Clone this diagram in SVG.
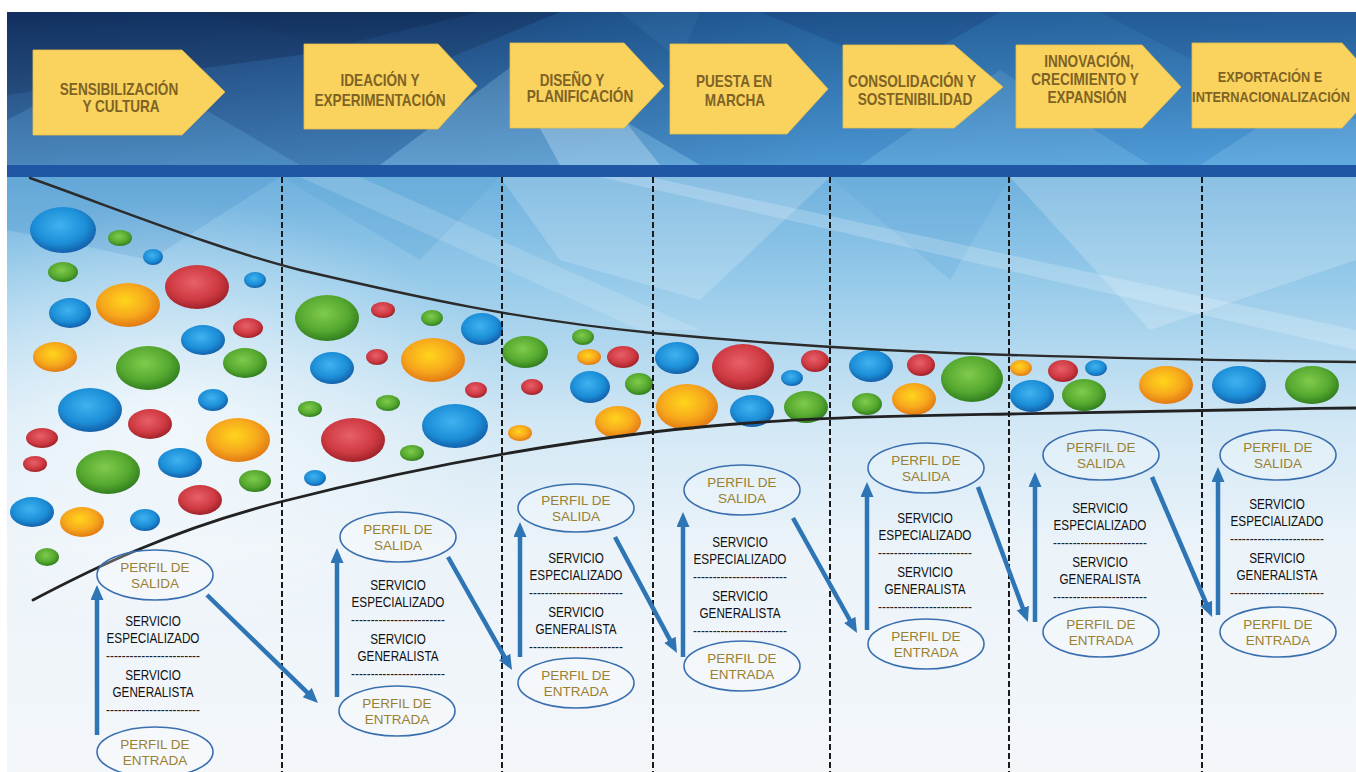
<svg xmlns="http://www.w3.org/2000/svg" width="1356" height="772" viewBox="0 0 1356 772">
<defs>
<style>
.h{font-family:"Liberation Sans",Arial,sans-serif;font-weight:bold;font-size:16px;fill:#7f6325;text-anchor:middle}
.h7{font-size:15px}
.s{font-family:"Liberation Sans",Arial,sans-serif;font-size:15px;fill:#111111;text-anchor:middle}
.d{font-family:"Liberation Sans",Arial,sans-serif;font-size:14px;fill:#222;text-anchor:middle}
.p{font-family:"Liberation Sans",Arial,sans-serif;font-size:13.5px;fill:#9a8032;text-anchor:middle}
.chev{fill:#fad35e;stroke:#e8bf4a;stroke-width:0.8}
.ell{fill:#ffffff;fill-opacity:0.25;stroke:#3a6faf;stroke-width:1.6}
.arr{stroke:#2e75b6;stroke-width:4.5;fill:none;marker-end:url(#ah)}
.sep{stroke:#1a1a1a;stroke-width:2;stroke-dasharray:6 3;fill:none}
.B{fill:url(#gB)}.G{fill:url(#gG)}.R{fill:url(#gR)}.O{fill:url(#gO)}
</style>
<marker id="ah" markerUnits="userSpaceOnUse" markerWidth="16" markerHeight="14" refX="3" refY="6.5" orient="auto">
<path d="M0,0 L15,6.5 L0,13 z" fill="#2e75b6"/>
</marker>
<linearGradient id="hdr" x1="0" y1="0" x2="1" y2="0">
<stop offset="0" stop-color="#1c4a86"/><stop offset="0.35" stop-color="#24609f"/><stop offset="0.6" stop-color="#2f7fc3"/><stop offset="1" stop-color="#3a8ed2"/>
</linearGradient>
<linearGradient id="hdrV" x1="0" y1="0" x2="0" y2="1">
<stop offset="0" stop-color="#0a1e46" stop-opacity="0.35"/><stop offset="1" stop-color="#7abde9" stop-opacity="0.35"/>
</linearGradient>
<linearGradient id="low" x1="0" y1="0" x2="0" y2="1">
<stop offset="0" stop-color="#6fb1de"/><stop offset="0.18" stop-color="#97cbea"/><stop offset="0.42" stop-color="#d3e8f5"/><stop offset="0.62" stop-color="#ebf3f9"/><stop offset="1" stop-color="#f4f7fa"/>
</linearGradient>
<radialGradient id="glow" cx="0.5" cy="0.5" r="0.5">
<stop offset="0" stop-color="#ffffff" stop-opacity="0.7"/><stop offset="1" stop-color="#ffffff" stop-opacity="0"/>
</radialGradient>
<radialGradient id="gB" cx="0.45" cy="0.4" r="0.6"><stop offset="0" stop-color="#40b2f0"/><stop offset="0.65" stop-color="#1c8fd8"/><stop offset="1" stop-color="#1560aa"/></radialGradient>
<radialGradient id="gG" cx="0.45" cy="0.4" r="0.6"><stop offset="0" stop-color="#80cb4c"/><stop offset="0.65" stop-color="#55a82f"/><stop offset="1" stop-color="#327f20"/></radialGradient>
<radialGradient id="gR" cx="0.45" cy="0.4" r="0.6"><stop offset="0" stop-color="#e8606a"/><stop offset="0.65" stop-color="#cf3a42"/><stop offset="1" stop-color="#a0232a"/></radialGradient>
<radialGradient id="gO" cx="0.45" cy="0.4" r="0.6"><stop offset="0" stop-color="#ffd51c"/><stop offset="0.6" stop-color="#f7a91e"/><stop offset="1" stop-color="#e27a12"/></radialGradient>
<filter id="soft" x="-10%" y="-10%" width="120%" height="120%"><feGaussianBlur stdDeviation="0.7"/></filter>
</defs>

<rect width="1356" height="772" fill="#ffffff"/>

<g id="background">
<rect x="7" y="12" width="1349" height="153" fill="url(#hdr)"/>
<polygon points="7,12 480,12 300,55 7,95" fill="#0f2a57" opacity="0.55"/>
<polygon points="200,12 560,12 420,70" fill="#163766" opacity="0.5"/>
<polygon points="7,120 120,60 300,165 7,165" fill="#5aa2d8" opacity="0.35"/>
<polygon points="380,165 520,60 700,165" fill="#8cc8ee" opacity="0.45"/>
<polygon points="530,110 600,90 660,165 560,165" fill="#d6eefb" opacity="0.45"/>
<polygon points="620,12 700,12 680,60" fill="#4b97d6" opacity="0.3"/>
<polygon points="760,12 1000,12 900,70" fill="#1d4f92" opacity="0.4"/>
<polygon points="860,165 1000,70 1150,165" fill="#7fc0ea" opacity="0.35"/>
<polygon points="1100,12 1356,12 1356,60 1250,90" fill="#2667ae" opacity="0.4"/>
<polygon points="1200,165 1300,100 1356,120 1356,165" fill="#86c6ee" opacity="0.35"/>
<rect x="7" y="12" width="1349" height="153" fill="url(#hdrV)"/>
<rect x="7" y="177" width="1349" height="595" fill="url(#low)"/>
<polygon points="7,177 280,177 150,260 7,230" fill="#4f97cf" opacity="0.35"/>
<polygon points="282,177 500,177 420,260" fill="#5ea5d8" opacity="0.3"/>
<polygon points="500,177 830,177 700,300 560,260" fill="#ffffff" opacity="0.18"/>
<polygon points="830,177 1010,177 950,280" fill="#5aa3d8" opacity="0.25"/>
<polygon points="1010,177 1356,177 1356,260 1150,330" fill="#ffffff" opacity="0.2"/>
<polygon points="600,177 650,177 1356,330 1356,350" fill="#ffffff" opacity="0.2"/>
<polygon points="300,177 360,177 700,330 640,330" fill="#ffffff" opacity="0.15"/>
<ellipse cx="170" cy="420" rx="330" ry="220" fill="url(#glow)"/>
<rect x="7" y="165" width="1349" height="12" fill="#1f57a4"/>
</g>

<g id="stages">
<g id="stage-1">
<polygon class="chev" points="33,50 182,50 225,92 182,135 33,135"/>
<text class="h" transform="translate(119 95) scale(0.85 1)">SENSIBILIZACIÓN</text>
<text class="h" transform="translate(121 112) scale(0.85 1)">Y CULTURA</text>
</g>
<g id="stage-2">
<polygon class="chev" points="304,44 438,44 477,86 438,129 304,129"/>
<text class="h" transform="translate(380 86) scale(0.85 1)">IDEACIÓN Y</text>
<text class="h" transform="translate(380 106) scale(0.85 1)">EXPERIMENTACIÓN</text>
</g>
<g id="stage-3">
<polygon class="chev" points="510,43 624,43 664,86 624,128 510,128"/>
<text class="h" transform="translate(572 86) scale(0.85 1)">DISEÑO Y</text>
<text class="h" transform="translate(580 102) scale(0.85 1)">PLANIFICACIÓN</text>
</g>
<g id="stage-4">
<polygon class="chev" points="670,44 787,44 828,89 787,134 670,134"/>
<text class="h" transform="translate(734 87) scale(0.85 1)">PUESTA EN</text>
<text class="h" transform="translate(735 106) scale(0.85 1)">MARCHA</text>
</g>
<g id="stage-5">
<polygon class="chev" points="843,45 954,45 1003,87 954,128 843,128"/>
<text class="h" transform="translate(912 87) scale(0.85 1)">CONSOLIDACIÓN Y</text>
<text class="h" transform="translate(915 105) scale(0.85 1)">SOSTENIBILIDAD</text>
</g>
<g id="stage-6">
<polygon class="chev" points="1016,45 1142,45 1181,87 1142,128 1016,128"/>
<text class="h" transform="translate(1089 67) scale(0.85 1)">INNOVACIÓN,</text>
<text class="h" transform="translate(1085 85) scale(0.85 1)">CRECIMIENTO Y</text>
<text class="h" transform="translate(1087 103) scale(0.85 1)">EXPANSIÓN</text>
</g>
<g id="stage-7">
<polygon class="chev" points="1192,43 1342,43 1380,86 1342,128 1192,128"/>
<text class="h h7" transform="translate(1270 82) scale(0.85 1)">EXPORTACIÓN E</text>
<text class="h h7" transform="translate(1271 102) scale(0.85 1)">INTERNACIONALIZACIÓN</text>
</g>
</g>

<g id="bubbles" filter="url(#soft)">
<ellipse class="B" cx="63" cy="230" rx="33" ry="23"/>
<ellipse class="G" cx="120" cy="238" rx="12" ry="8"/>
<ellipse class="B" cx="153" cy="257" rx="10" ry="8"/>
<ellipse class="G" cx="63" cy="272" rx="15" ry="10"/>
<ellipse class="R" cx="197" cy="287" rx="32" ry="22"/>
<ellipse class="B" cx="255" cy="280" rx="11" ry="8"/>
<ellipse class="O" cx="128" cy="305" rx="32" ry="22"/>
<ellipse class="B" cx="70" cy="313" rx="21" ry="15"/>
<ellipse class="R" cx="248" cy="328" rx="15" ry="10"/>
<ellipse class="B" cx="203" cy="340" rx="22" ry="15"/>
<ellipse class="O" cx="55" cy="357" rx="22" ry="15"/>
<ellipse class="G" cx="148" cy="368" rx="32" ry="22"/>
<ellipse class="G" cx="245" cy="363" rx="22" ry="15"/>
<ellipse class="B" cx="213" cy="400" rx="15" ry="11"/>
<ellipse class="B" cx="90" cy="410" rx="32" ry="22"/>
<ellipse class="R" cx="150" cy="424" rx="22" ry="15"/>
<ellipse class="O" cx="238" cy="440" rx="32" ry="22"/>
<ellipse class="R" cx="42" cy="438" rx="16" ry="10"/>
<ellipse class="R" cx="35" cy="464" rx="12" ry="8"/>
<ellipse class="G" cx="108" cy="472" rx="32" ry="22"/>
<ellipse class="B" cx="180" cy="463" rx="22" ry="15"/>
<ellipse class="G" cx="255" cy="481" rx="16" ry="11"/>
<ellipse class="R" cx="200" cy="500" rx="22" ry="15"/>
<ellipse class="B" cx="32" cy="512" rx="22" ry="15"/>
<ellipse class="O" cx="82" cy="522" rx="22" ry="15"/>
<ellipse class="B" cx="145" cy="520" rx="15" ry="11"/>
<ellipse class="G" cx="47" cy="557" rx="12" ry="9"/>
<ellipse class="G" cx="327" cy="318" rx="32" ry="23"/>
<ellipse class="R" cx="383" cy="310" rx="12" ry="8"/>
<ellipse class="G" cx="432" cy="318" rx="11" ry="8"/>
<ellipse class="B" cx="482" cy="329" rx="21" ry="16"/>
<ellipse class="B" cx="332" cy="368" rx="22" ry="16"/>
<ellipse class="R" cx="377" cy="357" rx="11" ry="8"/>
<ellipse class="O" cx="433" cy="360" rx="32" ry="22"/>
<ellipse class="R" cx="476" cy="390" rx="11" ry="8"/>
<ellipse class="G" cx="310" cy="409" rx="12" ry="8"/>
<ellipse class="G" cx="388" cy="403" rx="12" ry="8"/>
<ellipse class="B" cx="455" cy="426" rx="33" ry="22"/>
<ellipse class="R" cx="353" cy="440" rx="32" ry="22"/>
<ellipse class="G" cx="412" cy="453" rx="12" ry="8"/>
<ellipse class="B" cx="315" cy="478" rx="11" ry="8"/>
<ellipse class="G" cx="525" cy="352" rx="23" ry="16"/>
<ellipse class="G" cx="583" cy="337" rx="11" ry="8"/>
<ellipse class="O" cx="589" cy="357" rx="12" ry="8"/>
<ellipse class="R" cx="623" cy="357" rx="16" ry="11"/>
<ellipse class="R" cx="532" cy="387" rx="11" ry="8"/>
<ellipse class="B" cx="590" cy="387" rx="20" ry="16"/>
<ellipse class="G" cx="639" cy="384" rx="14" ry="11"/>
<ellipse class="O" cx="618" cy="422" rx="23" ry="16"/>
<ellipse class="O" cx="520" cy="433" rx="12" ry="8"/>
<ellipse class="B" cx="677" cy="358" rx="22" ry="16"/>
<ellipse class="R" cx="743" cy="367" rx="31" ry="23"/>
<ellipse class="R" cx="815" cy="361" rx="14" ry="11"/>
<ellipse class="B" cx="792" cy="378" rx="11" ry="8"/>
<ellipse class="O" cx="687" cy="407" rx="31" ry="23"/>
<ellipse class="B" cx="752" cy="411" rx="22" ry="16"/>
<ellipse class="G" cx="806" cy="407" rx="22" ry="16"/>
<ellipse class="B" cx="871" cy="366" rx="22" ry="16"/>
<ellipse class="R" cx="921" cy="365" rx="14" ry="11"/>
<ellipse class="G" cx="972" cy="379" rx="31" ry="23"/>
<ellipse class="G" cx="867" cy="404" rx="15" ry="11"/>
<ellipse class="O" cx="914" cy="399" rx="22" ry="16"/>
<ellipse class="O" cx="1021" cy="368" rx="11" ry="8"/>
<ellipse class="R" cx="1063" cy="371" rx="15" ry="11"/>
<ellipse class="B" cx="1096" cy="368" rx="11" ry="8"/>
<ellipse class="B" cx="1032" cy="396" rx="22" ry="16"/>
<ellipse class="G" cx="1084" cy="395" rx="22" ry="16"/>
<ellipse class="O" cx="1166" cy="385" rx="27" ry="19"/>
<ellipse class="B" cx="1239" cy="385" rx="27" ry="19"/>
<ellipse class="G" cx="1312" cy="385" rx="27" ry="19"/>
</g>

<g id="funnel" fill="none" stroke-linecap="round">
<path d="M30,178 C120,210 220,250 300,270 C420,298 520,320 653,333 C780,345 900,352 1010,355 C1150,359 1250,361 1356,362" stroke="#2b2b2b" stroke-width="2.4"/>
<path d="M33,600 C90,570 170,530 280,502 C390,474 520,448 653,432 C780,417 900,416 1010,414 C1150,411.5 1250,409 1356,408" stroke="#222222" stroke-width="2.8"/>
</g>

<g id="separators">
<line class="sep" x1="282" y1="177" x2="282" y2="772"/>
<line class="sep" x1="502" y1="177" x2="502" y2="772"/>
<line class="sep" x1="653" y1="177" x2="653" y2="772"/>
<line class="sep" x1="830" y1="177" x2="830" y2="772"/>
<line class="sep" x1="1009" y1="177" x2="1009" y2="772"/>
<line class="sep" x1="1202" y1="177" x2="1202" y2="772"/>
</g>

<g id="col-1">
<g id="col-1-salida"><ellipse class="ell" cx="155" cy="575" rx="58" ry="25"/><text class="p" x="155" y="572">PERFIL DE</text><text class="p" x="155" y="588">SALIDA</text></g>
<g id="col-1-servicios">
<text class="s" transform="translate(153 626) scale(0.78 1)">SERVICIO</text>
<text class="s" transform="translate(153 643) scale(0.78 1)">ESPECIALIZADO</text>
<text class="d" transform="translate(153 661) scale(0.84 1)">------------------------</text>
<text class="s" transform="translate(153 680) scale(0.78 1)">SERVICIO</text>
<text class="s" transform="translate(153 697) scale(0.78 1)">GENERALISTA</text>
<text class="d" transform="translate(153 715) scale(0.84 1)">------------------------</text>
</g>
<g id="col-1-entrada"><ellipse class="ell" cx="155" cy="752" rx="58" ry="25"/><text class="p" x="155" y="749">PERFIL DE</text><text class="p" x="155" y="765">ENTRADA</text></g>
</g>

<g id="col-2">
<g id="col-2-salida"><ellipse class="ell" cx="398" cy="537" rx="58" ry="25"/><text class="p" x="398" y="534">PERFIL DE</text><text class="p" x="398" y="550">SALIDA</text></g>
<g id="col-2-servicios">
<text class="s" transform="translate(398 590) scale(0.78 1)">SERVICIO</text>
<text class="s" transform="translate(398 607) scale(0.78 1)">ESPECIALIZADO</text>
<text class="d" transform="translate(398 625) scale(0.84 1)">------------------------</text>
<text class="s" transform="translate(398 644) scale(0.78 1)">SERVICIO</text>
<text class="s" transform="translate(398 661) scale(0.78 1)">GENERALISTA</text>
<text class="d" transform="translate(398 679) scale(0.84 1)">------------------------</text>
</g>
<g id="col-2-entrada"><ellipse class="ell" cx="397" cy="711" rx="58" ry="25"/><text class="p" x="397" y="708">PERFIL DE</text><text class="p" x="397" y="724">ENTRADA</text></g>
</g>

<g id="col-3">
<g id="col-3-salida"><ellipse class="ell" cx="576" cy="508" rx="58" ry="24"/><text class="p" x="576" y="505">PERFIL DE</text><text class="p" x="576" y="521">SALIDA</text></g>
<g id="col-3-servicios">
<text class="s" transform="translate(576 563) scale(0.78 1)">SERVICIO</text>
<text class="s" transform="translate(576 580) scale(0.78 1)">ESPECIALIZADO</text>
<text class="d" transform="translate(576 598) scale(0.84 1)">------------------------</text>
<text class="s" transform="translate(576 617) scale(0.78 1)">SERVICIO</text>
<text class="s" transform="translate(576 634) scale(0.78 1)">GENERALISTA</text>
<text class="d" transform="translate(576 652) scale(0.84 1)">------------------------</text>
</g>
<g id="col-3-entrada"><ellipse class="ell" cx="576" cy="683" rx="58" ry="25"/><text class="p" x="576" y="680">PERFIL DE</text><text class="p" x="576" y="696">ENTRADA</text></g>
</g>

<g id="col-4">
<g id="col-4-salida"><ellipse class="ell" cx="742" cy="490" rx="58" ry="25"/><text class="p" x="742" y="487">PERFIL DE</text><text class="p" x="742" y="503">SALIDA</text></g>
<g id="col-4-servicios">
<text class="s" transform="translate(740 547) scale(0.78 1)">SERVICIO</text>
<text class="s" transform="translate(740 564) scale(0.78 1)">ESPECIALIZADO</text>
<text class="d" transform="translate(740 582) scale(0.84 1)">------------------------</text>
<text class="s" transform="translate(740 601) scale(0.78 1)">SERVICIO</text>
<text class="s" transform="translate(740 618) scale(0.78 1)">GENERALISTA</text>
<text class="d" transform="translate(740 636) scale(0.84 1)">------------------------</text>
</g>
<g id="col-4-entrada"><ellipse class="ell" cx="742" cy="666" rx="58" ry="25"/><text class="p" x="742" y="663">PERFIL DE</text><text class="p" x="742" y="679">ENTRADA</text></g>
</g>

<g id="col-5">
<g id="col-5-salida"><ellipse class="ell" cx="926" cy="468" rx="58" ry="25"/><text class="p" x="926" y="465">PERFIL DE</text><text class="p" x="926" y="481">SALIDA</text></g>
<g id="col-5-servicios">
<text class="s" transform="translate(925 523) scale(0.78 1)">SERVICIO</text>
<text class="s" transform="translate(925 540) scale(0.78 1)">ESPECIALIZADO</text>
<text class="d" transform="translate(925 558) scale(0.84 1)">------------------------</text>
<text class="s" transform="translate(925 577) scale(0.78 1)">SERVICIO</text>
<text class="s" transform="translate(925 594) scale(0.78 1)">GENERALISTA</text>
<text class="d" transform="translate(925 612) scale(0.84 1)">------------------------</text>
</g>
<g id="col-5-entrada"><ellipse class="ell" cx="926" cy="644" rx="58" ry="25"/><text class="p" x="926" y="641">PERFIL DE</text><text class="p" x="926" y="657">ENTRADA</text></g>
</g>

<g id="col-6">
<g id="col-6-salida"><ellipse class="ell" cx="1101" cy="455" rx="58" ry="25"/><text class="p" x="1101" y="452">PERFIL DE</text><text class="p" x="1101" y="468">SALIDA</text></g>
<g id="col-6-servicios">
<text class="s" transform="translate(1100 513) scale(0.78 1)">SERVICIO</text>
<text class="s" transform="translate(1100 530) scale(0.78 1)">ESPECIALIZADO</text>
<text class="d" transform="translate(1100 548) scale(0.84 1)">------------------------</text>
<text class="s" transform="translate(1100 567) scale(0.78 1)">SERVICIO</text>
<text class="s" transform="translate(1100 584) scale(0.78 1)">GENERALISTA</text>
<text class="d" transform="translate(1100 602) scale(0.84 1)">------------------------</text>
</g>
<g id="col-6-entrada"><ellipse class="ell" cx="1101" cy="632" rx="58" ry="25"/><text class="p" x="1101" y="629">PERFIL DE</text><text class="p" x="1101" y="645">ENTRADA</text></g>
</g>

<g id="col-7">
<g id="col-7-salida"><ellipse class="ell" cx="1278" cy="455" rx="58" ry="25"/><text class="p" x="1278" y="452">PERFIL DE</text><text class="p" x="1278" y="468">SALIDA</text></g>
<g id="col-7-servicios">
<text class="s" transform="translate(1277 509) scale(0.78 1)">SERVICIO</text>
<text class="s" transform="translate(1277 526) scale(0.78 1)">ESPECIALIZADO</text>
<text class="d" transform="translate(1277 544) scale(0.84 1)">------------------------</text>
<text class="s" transform="translate(1277 563) scale(0.78 1)">SERVICIO</text>
<text class="s" transform="translate(1277 580) scale(0.78 1)">GENERALISTA</text>
<text class="d" transform="translate(1277 598) scale(0.84 1)">------------------------</text>
</g>
<g id="col-7-entrada"><ellipse class="ell" cx="1278" cy="632" rx="58" ry="25"/><text class="p" x="1278" y="629">PERFIL DE</text><text class="p" x="1278" y="645">ENTRADA</text></g>
</g>

<g id="connectors">
<line class="arr" x1="97" y1="735" x2="97" y2="597"/>
<line class="arr" x1="207" y1="595" x2="309.4" y2="694.6"/>
<line class="arr" x1="337" y1="697" x2="337" y2="560"/>
<line class="arr" x1="448" y1="557" x2="506.1" y2="659.6"/>
<line class="arr" x1="520" y1="657" x2="520" y2="534"/>
<line class="arr" x1="615" y1="537" x2="671.3" y2="642.4"/>
<line class="arr" x1="683" y1="657" x2="683" y2="524"/>
<line class="arr" x1="793" y1="518" x2="851.2" y2="622.5"/>
<line class="arr" x1="867" y1="630" x2="867" y2="494"/>
<line class="arr" x1="978" y1="487" x2="1023.8" y2="610.8"/>
<line class="arr" x1="1035" y1="622" x2="1035" y2="484"/>
<line class="arr" x1="1152" y1="477" x2="1207.3" y2="606"/>
<line class="arr" x1="1218" y1="615" x2="1218" y2="479"/>
</g>
</svg>
